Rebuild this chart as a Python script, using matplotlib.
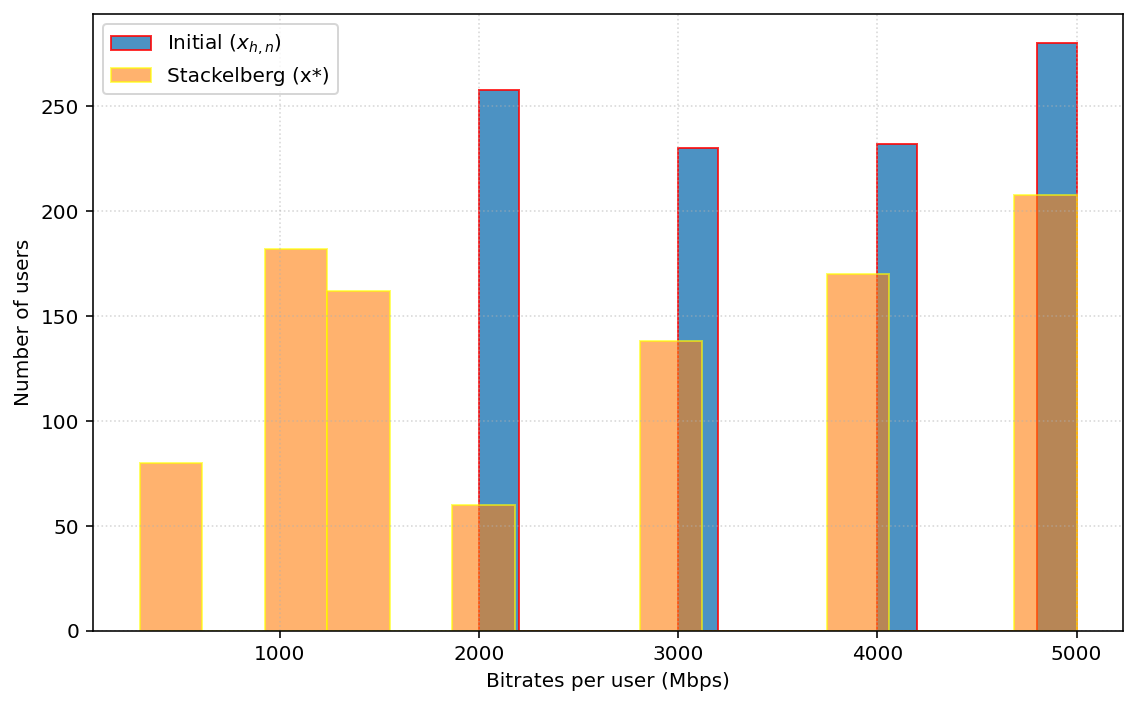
import numpy as np
import matplotlib.pyplot as plt



# Bitrate levels (Mbps) and how many users sit at each level
initial_bitrates = [2000, 3000, 4000, 5000]
initial_counts = [258, 230, 232, 280]

stackelberg_bitrates = [300, 1000, 1500, 2000, 3000, 4000, 5000]
stackelberg_counts = [80, 182, 162, 60, 138, 170, 208]

n_bins = 15



fig, ax = plt.subplots(figsize=(1137 / 144, 705 / 144), dpi=144)
fig.subplots_adjust(left=0.082, right=0.988, top=0.980, bottom=0.105)

ax.hist(initial_bitrates, bins=n_bins, weights=initial_counts,
        color='C0', edgecolor='red', alpha=0.8, label='Initial ($x_{h,n}$)')
ax.hist(stackelberg_bitrates, bins=n_bins, weights=stackelberg_counts,
        color='C1', edgecolor='yellow', alpha=0.6, label='Stackelberg (x*)')

ax.set_xlabel('Bitrates per user (Mbps)')
ax.set_ylabel('Number of users')
ax.grid(True, linestyle=':', alpha=0.5)
ax.legend(loc='upper left')

plt.savefig('out.png')
